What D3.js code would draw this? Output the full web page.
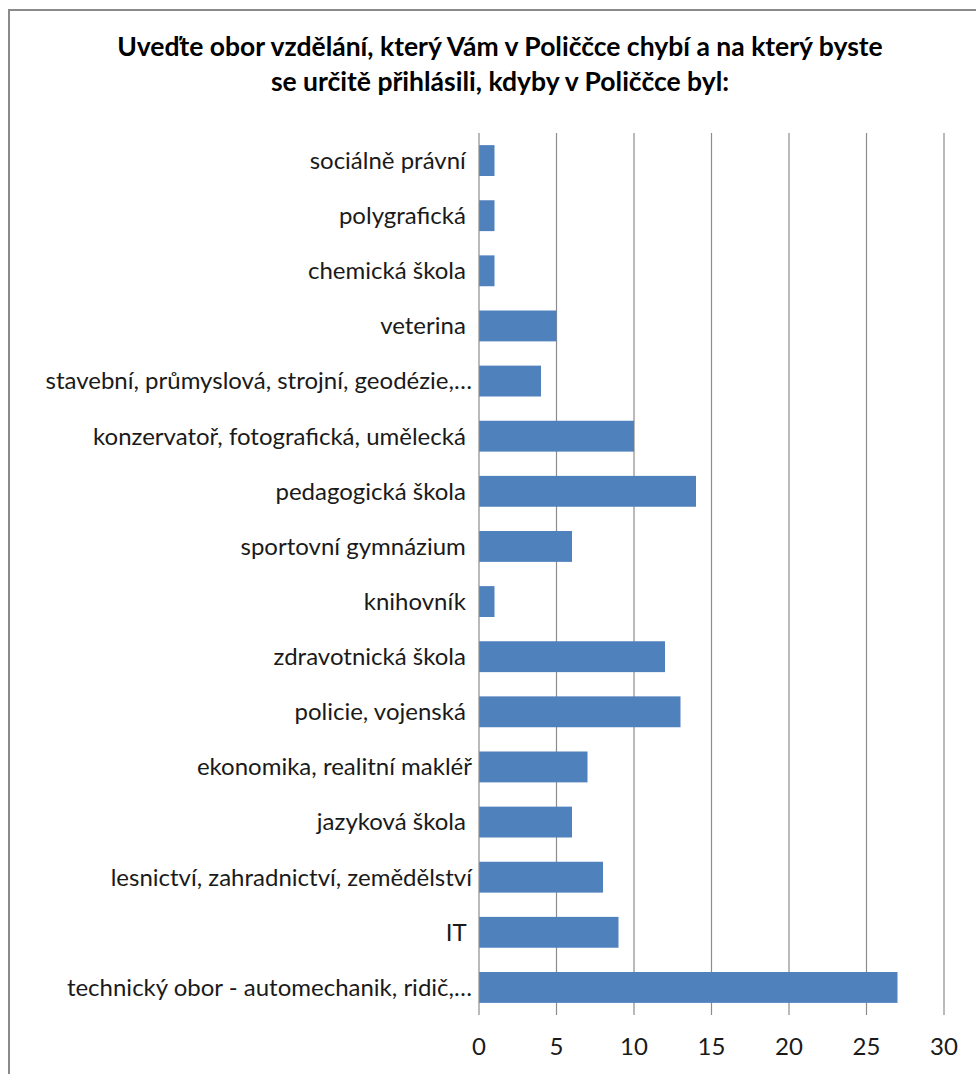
<!DOCTYPE html>
<html>
<head>
<meta charset="utf-8">
<script src="https://cdn.jsdelivr.net/npm/d3@7"></script>
<style>
  body { margin: 0; background: #fff; }
  svg { display: block; font-family: Lato, "Open Sans", sans-serif; }
</style>
</head>
<body>
<svg width="976" height="1074"></svg>
<script>
// data, top to bottom
var categories = [
    "sociálně právní\u00a0",
    "polygrafická\u00a0",
    "chemická škola\u00a0",
    "veterina\u00a0",
    "stavební, průmyslová, strojní, geodézie,…",
    "konzervatoř, fotografická, umělecká\u00a0",
    "pedagogická škola\u00a0",
    "sportovní gymnázium\u00a0",
    "knihovník\u00a0",
    "zdravotnická škola\u00a0",
    "policie, vojenská\u00a0",
    "ekonomika, realitní makléř",
    "jazyková škola\u00a0",
    "lesnictví, zahradnictví, zemědělství",
    "IT\u00a0",
    "technický obor - automechanik, ridič,…"
];
var counts = [1, 1, 1, 5, 4, 10, 14, 6, 1, 12, 13, 7, 6, 8, 9, 27];
var xTicks = [0, 5, 10, 15, 20, 25, 30];
var titleLines = [
    "Uveďte obor vzdělání, který Vám v Poliččce chybí a na který byste",
    "se určitě přihlásili, kdyby v Poliččce byl:"
];

function drawChart() {
    var svg = d3.select("svg");
    var pLeft = 479, pRight = 944, pTop = 133, pBottom = 1015;

    // chart frame (only top and left edges are in the picture)
    svg.append("path")
        .attr("d", "M9,1074 V10 H976")
        .attr("fill", "none").attr("stroke", "#8a8a8a").attr("stroke-width", 2);

    svg.append("g").selectAll("text")
        .data(titleLines).enter().append("text")
        .attr("x", 500).attr("y", (d, i) => 56 + i * 35)
        .attr("text-anchor", "middle")
        .attr("font-size", 26.5).attr("font-weight", "bold").attr("fill", "#000")
        .text(d => d);

    var x = d3.scaleLinear().domain([0, 30]).range([pLeft, pRight]);
    var y = d3.scaleBand().domain(categories).range([pTop, pBottom])
        .paddingInner(0.44).paddingOuter(0.22);

    // vertical gridlines
    svg.append("g").selectAll("line")
        .data(xTicks.slice(1)).enter().append("line")
        .attr("x1", d => x(d)).attr("x2", d => x(d))
        .attr("y1", pTop).attr("y2", pBottom)
        .attr("stroke", "#8c8c8c").attr("stroke-width", 1.2);

    svg.append("g").selectAll("rect")
        .data(counts).enter().append("rect")
        .attr("x", x(0))
        .attr("y", (d, i) => y(categories[i]))
        .attr("width", d => x(d) - x(0))
        .attr("height", y.bandwidth())
        .attr("fill", "#4f81bd");

    // category axis line
    svg.append("line")
        .attr("x1", x(0)).attr("x2", x(0)).attr("y1", pTop).attr("y2", pBottom)
        .attr("stroke", "#8c8c8c").attr("stroke-width", 1.2);

    svg.append("g").selectAll("text")
        .data(categories).enter().append("text")
        .attr("x", 472)
        .attr("y", d => y(d) + y.bandwidth() / 2)
        .attr("dy", "0.35em")
        .attr("text-anchor", "end")
        .attr("font-size", 24).attr("fill", "#1a1a1a")
        .style("white-space", "pre")
        .text(d => d);

    svg.append("g").selectAll("text")
        .data(xTicks).enter().append("text")
        .attr("x", d => x(d)).attr("y", 1047)
        .attr("dy", "0.35em")
        .attr("text-anchor", "middle")
        .attr("font-size", 24).attr("fill", "#1a1a1a")
        .text(d => d);
}
drawChart();
</script>
</body>
</html>
